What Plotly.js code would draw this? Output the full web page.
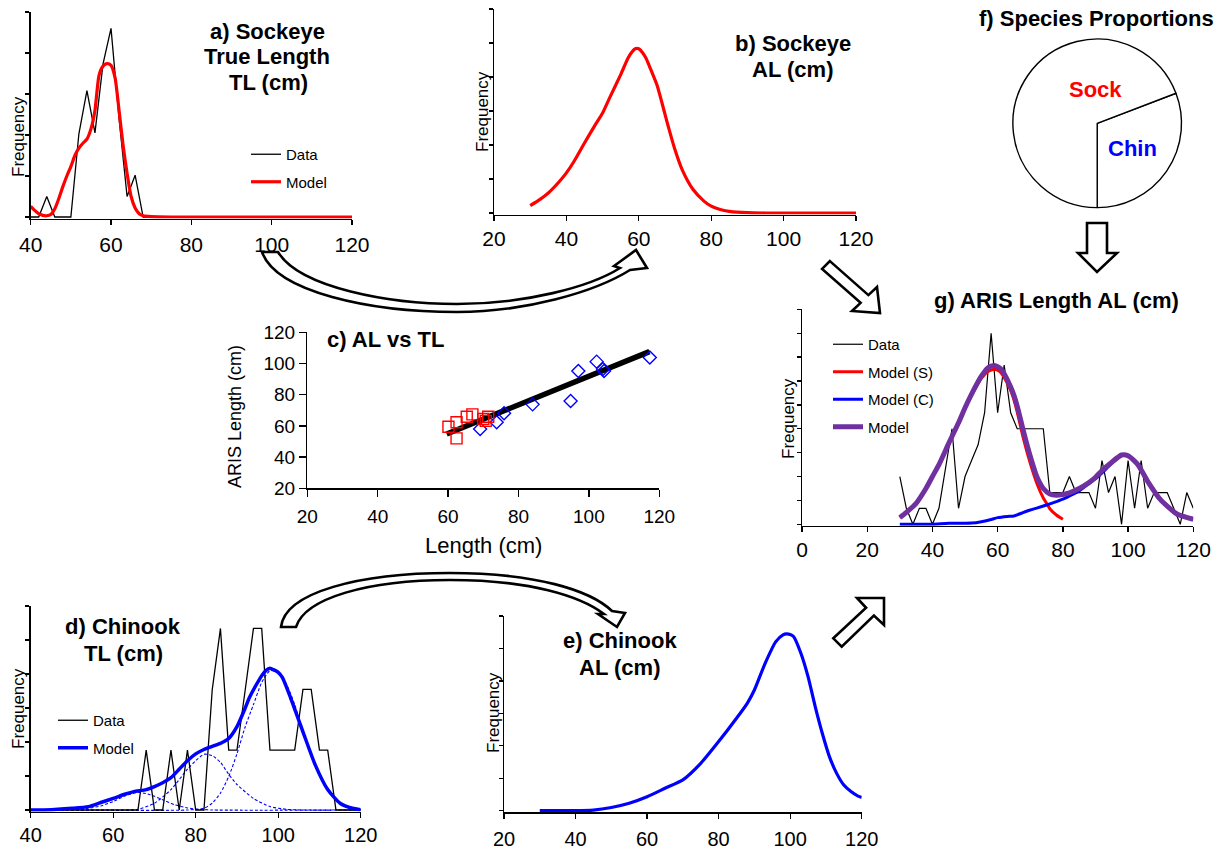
<!DOCTYPE html>
<html><head><meta charset="utf-8">
<script src="https://cdn.plot.ly/plotly-3.0.1.min.js"></script>
<style>html,body{margin:0;padding:0;background:#fff}#chart{width:1224px;height:849px}</style>
</head><body><div id="chart"></div>
<script>
// ---------- Data ----------
// a) Sockeye true length
const aDataX = [40,42,44,46,48,50,52,54,56,58,60,62,64,66,68,70];
const aDataY = [0,0,0.5,0,0,0,2.03,3.08,2.05,3.73,4.6,2.4,0.5,1.02,0,0];
const aModelX = [40,41,42,43,44,45,46,47,48,49,50,51,52,53,54,55,56,57,58,59,60,61,62,63,64,65,66,67,68,70,75,80,90,100,110,120];
const aModelY = [0.26,0.16,0.08,0.04,0.03,0.06,0.2,0.45,0.74,1.0,1.23,1.5,1.68,1.8,1.9,2.15,2.6,3.45,3.68,3.74,3.7,3.4,2.6,1.75,1.06,0.5,0.22,0.08,0.03,0.01,0,0,0,0,0,0];
// b) Sockeye ARIS length
const bModelX = [30,32,35,38,40,42,45,48,50,52,55,57,58,59,60,61,62,63,65,67,68,70,72,75,78,80,83,85,90,95,100,110,120];
const bModelY = [0.22,0.35,0.59,0.92,1.18,1.5,2.06,2.6,2.94,3.4,4.07,4.55,4.72,4.83,4.83,4.72,4.55,4.3,3.77,3.0,2.6,1.86,1.27,0.69,0.35,0.2,0.09,0.05,0.01,0,0,0,0];
// c) AL vs TL
const cSockTL = [60.1,62.4,62.4,65.3,66.9,70.0,71.4,70.7];
const cSockAL = [59.5,62.3,52.0,65.9,67.4,64.4,65.9,63.2];
const cChinTL = [69.1,73.8,75.9,84.0,94.8,97.0,102.2,104.3,104.0,117.3];
const cChinAL = [58.0,62.3,68.1,73.8,76.0,95.2,101.2,95.2,96.5,103.8];
const cFitTL = [59.6,117.2];
const cFitAL = [54.8,107.6];
// d) Chinook true length
const dDataX = [40,42,44,46,48,50,52,54,56,58,60,62,64,66,68,70,72,74,76,78,80,82,84,86,88,90,92,94,96,98,100,102,104,106,108,110,112,114,116,118,120];
const dDataY = [0,0,0,0,0,0,0,0,0,0,0,0,0,0,1.76,0,0,1.76,0,1.76,0,0,3.53,5.34,1.76,1.76,3.53,5.34,5.34,1.76,1.76,1.76,1.76,3.55,3.55,1.76,1.76,0,0,0,0];
const dModelX = [40,45,50,54,57,60,63,65,68,70,72,74,76,78,80,82,84,86,87,88,90,92,93,95,96,97,98,99,100,101,103,106,109,112,115,118,120];
const dModelY = [0,0.01,0.05,0.1,0.22,0.34,0.47,0.54,0.6,0.69,0.8,0.95,1.2,1.45,1.65,1.78,1.87,1.96,2.02,2.1,2.45,3.0,3.3,3.75,3.95,4.1,4.17,4.12,4.05,3.9,3.3,2.3,1.32,0.6,0.2,0.05,0.01];
const dComp1X = [40,50,54,57,60,63,66,69,72,75,78,81,84,120];
const dComp1Y = [0,0,0.05,0.12,0.25,0.42,0.52,0.45,0.3,0.15,0.06,0.02,0,0];
const dComp2X = [40,62,66,70,74,78,80,82,84,86,88,90,94,98,102,106,120];
const dComp2Y = [0,0,0.02,0.2,0.6,1.2,1.45,1.64,1.6,1.4,1.05,0.75,0.34,0.1,0.02,0,0];
const dComp3X = [40,78,82,84,86,88,90,92,94,96,98,100,102,104,106,109,112,115,120];
const dComp3Y = [0,0,0.05,0.2,0.5,0.98,1.65,2.45,3.1,3.75,4.1,4.05,3.7,3.1,2.3,1.32,0.6,0.2,0.01];
// e) Chinook ARIS length
const eModelX = [30,35,40,45,50,55,60,65,70,75,80,85,88,90,93,96,98,99,100,101,103,105,107,109,111,113,115,117,119,120];
const eModelY = [0,0,0,0.02,0.1,0.23,0.43,0.69,0.95,1.46,2.13,2.85,3.31,3.72,4.54,5.21,5.42,5.45,5.43,5.36,4.85,4.13,3.21,2.38,1.66,1.15,0.79,0.59,0.45,0.41];
// f) species proportions
const pieLabels = ['Chin','Sock'];
const pieValues = [30.8,69.2];
const pieRotation = 69.1;
// g) ARIS length (mixture)
const gDataX = [30,32,34,36,38,40,42,44,46,48,50,52,54,56,58,60,62,64,66,68,70,72,74,76,78,80,82,84,86,88,90,92,94,96,98,100,102,104,106,108,110,112,114,116,118,120];
const gDataY = [2.0,0.67,0,0.67,0.67,0,0.67,2.33,4.0,0.67,2.0,2.67,3.33,4.67,8.0,4.67,6.67,4.67,4.0,4.0,4.0,4.0,4.0,1.33,1.33,1.33,2.0,1.33,1.33,1.33,0.67,2.67,1.33,2.0,0,2.67,0.67,2.67,0.67,1.33,1.33,1.33,0.67,0,1.33,0.67];
const gModelSX = [30,32,35,38,40,42,45,48,50,52,55,57,58,59,60,61,62,64,65,66,68,70,72,74,75,76,78,80];
const gModelSY = [0.28,0.5,0.88,1.5,2.0,2.5,3.39,4.2,4.86,5.4,6.11,6.4,6.46,6.49,6.45,6.35,6.15,5.6,5.2,4.7,3.53,2.55,1.72,1.1,0.88,0.65,0.39,0.21];
const gModelCX = [30,35,40,45,50,52,55,58,60,63,65,68,70,72,75,78,80,83,85,88,90,92,95,98,100,103,106,110,115,120];
const gModelCY = [0,0,0,0.04,0.04,0.05,0.11,0.2,0.28,0.33,0.35,0.5,0.6,0.68,0.81,0.95,1.05,1.25,1.4,1.7,1.9,2.15,2.55,2.88,2.87,2.48,1.79,1.02,0.43,0.21];
const gModelX = [30,32,35,38,40,42,45,48,50,52,55,57,58,59,60,61,62,64,65,66,68,70,72,74,76,78,80,82,85,88,90,92,95,98,100,103,106,110,115,120];
const gModelY = [0.28,0.5,0.88,1.5,2.0,2.5,3.39,4.25,4.88,5.45,6.2,6.55,6.62,6.65,6.6,6.5,6.3,5.75,5.4,4.95,3.85,2.85,2.0,1.5,1.27,1.22,1.25,1.32,1.5,1.75,1.97,2.25,2.6,2.9,2.87,2.5,1.8,1.02,0.43,0.21];
// tick values
const ticksA = [40,60,80,100,120];
const ticks20 = [20,40,60,80,100,120];
const ticksG = [0,20,40,60,80,100,120];
const ticksCY = [20,40,60,80,100,120];
const freq5 = [0,1,2,3,4,5];
const freq6 = [0,1,2,3,4,5,6];
const freq9 = [0,1,2,3,4,5,6,7,8,9];

// ---------- Helpers ----------
const W = 1224, H = 849;
const FONT = 'Liberation Sans, Arial, sans-serif';
const RED = '#FF0000', BLUE = '#0000FF', PURPLE = '#7030A0';
const common = {showgrid:false, zeroline:false, showline:true, linecolor:'black', linewidth:1.3,
  ticks:'outside', tickcolor:'black', tickwidth:1.3, fixedrange:true};
function xAx(l, r, range, tickvals, size, anchor, extra){
  return Object.assign({}, common, {domain:[l/W, r/W], range, tickvals, ticklen:5,
    tickfont:{size, color:'black', family:FONT}, anchor}, extra||{});
}
function yAx(top, bot, vmax, tickvals, anchor, pad){
  const per = vmax/(bot-top);
  return Object.assign({}, common, {domain:[1-(bot+pad)/H, 1-top/H], range:[-pad*per, vmax],
    tickvals, showticklabels:false, ticklen:4, anchor});
}
function ann(text, x, y, size, opts){
  return Object.assign({text, x:x/W, y:1-y/H, xref:'paper', yref:'paper', showarrow:false,
    xanchor:'center', yanchor:'middle', font:{size, color:'black', family:FONT}}, opts||{});
}
function freq(x, y){ return ann('Frequency', x, y, 17, {textangle:-90}); }
function bold(t, x, y){ return ann('<b>'+t+'</b>', x, y, 22); }
function pxPath(p){
  return p.replace(/(-?\d+\.?\d*),(-?\d+\.?\d*)/g, (m,a,b)=> (a/W).toFixed(5)+','+(1-b/H).toFixed(5));
}
function arrow(p){
  return {type:'path', xref:'paper', yref:'paper', path:pxPath(p), fillcolor:'white',
    line:{color:'black', width:2.6}, layer:'above'};
}

// ---------- Traces ----------
const traces = [
  // a
  {x:aDataX, y:aDataY, xaxis:'x', yaxis:'y', mode:'lines', name:'Data', line:{color:'black', width:1.3},
    legend:'legend', legendgroup:'a1'},
  {x:aModelX, y:aModelY, xaxis:'x', yaxis:'y', mode:'lines', name:'Model', line:{color:RED, width:3.2, shape:'spline', smoothing:0.6},
    legend:'legend', legendgroup:'a2'},
  // b
  {x:bModelX, y:bModelY, xaxis:'x2', yaxis:'y2', mode:'lines', line:{color:RED, width:3.2, shape:'spline', smoothing:0.6}, showlegend:false},
  // c
  {x:cFitTL, y:cFitAL, xaxis:'x3', yaxis:'y3', mode:'lines', line:{color:'black', width:5.5}, showlegend:false},
  {x:cChinTL, y:cChinAL, xaxis:'x3', yaxis:'y3', mode:'markers', marker:{symbol:'diamond-open', size:10, color:BLUE, line:{width:1.4, color:BLUE}}, showlegend:false},
  {x:cSockTL, y:cSockAL, xaxis:'x3', yaxis:'y3', mode:'markers', marker:{symbol:'square-open', size:11, color:RED, line:{width:1.4, color:RED}}, showlegend:false},
  // d
  {x:dComp1X, y:dComp1Y, xaxis:'x4', yaxis:'y4', mode:'lines', line:{color:BLUE, width:1.1, dash:'3px,2px', shape:'spline', smoothing:0.6}, showlegend:false},
  {x:dComp2X, y:dComp2Y, xaxis:'x4', yaxis:'y4', mode:'lines', line:{color:BLUE, width:1.1, dash:'3px,2px', shape:'spline', smoothing:0.6}, showlegend:false},
  {x:dComp3X, y:dComp3Y, xaxis:'x4', yaxis:'y4', mode:'lines', line:{color:BLUE, width:1.1, dash:'3px,2px', shape:'spline', smoothing:0.6}, showlegend:false},
  {x:dDataX, y:dDataY, xaxis:'x4', yaxis:'y4', mode:'lines', name:'Data', line:{color:'black', width:1.3},
    legend:'legend2', legendgroup:'d1'},
  {x:dModelX, y:dModelY, xaxis:'x4', yaxis:'y4', mode:'lines', name:'Model', line:{color:BLUE, width:3.5, shape:'spline', smoothing:0.6},
    legend:'legend2', legendgroup:'d2'},
  // e
  {x:eModelX, y:eModelY, xaxis:'x5', yaxis:'y5', mode:'lines', line:{color:BLUE, width:3.2, shape:'spline', smoothing:0.6}, showlegend:false},
  // g
  {x:gDataX, y:gDataY, xaxis:'x6', yaxis:'y6', mode:'lines', name:'Data', line:{color:'black', width:1.2},
    legend:'legend3', legendgroup:'g1'},
  {x:gModelSX, y:gModelSY, xaxis:'x6', yaxis:'y6', mode:'lines', name:'Model (S)', line:{color:RED, width:3, shape:'spline', smoothing:0.6},
    legend:'legend3', legendgroup:'g2'},
  {x:gModelCX, y:gModelCY, xaxis:'x6', yaxis:'y6', mode:'lines', name:'Model (C)', line:{color:BLUE, width:3, shape:'spline', smoothing:0.6},
    legend:'legend3', legendgroup:'g3'},
  {x:gModelX, y:gModelY, xaxis:'x6', yaxis:'y6', mode:'lines', name:'Model', line:{color:PURPLE, width:5, shape:'spline', smoothing:0.6},
    legend:'legend3', legendgroup:'g4'},
  // f pie
  {type:'pie', labels:pieLabels, values:pieValues, sort:false, direction:'clockwise', rotation:pieRotation,
    textinfo:'none', hoverinfo:'none', showlegend:false,
    marker:{colors:['white','white'], line:{color:'black', width:1.4}},
    domain:{x:[(1097.2-84.3)/W, (1097.2+84.3)/W], y:[1-(123.3+84.3)/H, 1-(123.3-84.3)/H]}}
];

const legendBase = {bgcolor:'rgba(0,0,0,0)', borderwidth:0, font:{size:15, color:'black', family:FONT},
  traceorder:'grouped', tracegroupgap:5, xanchor:'left', yanchor:'top', itemwidth:30};

const layout = {
  width:W, height:H, autosize:false,
  margin:{l:0, r:0, t:0, b:0, pad:0},
  paper_bgcolor:'white', plot_bgcolor:'rgba(0,0,0,0)',
  font:{family:FONT, color:'black'},
  hovermode:false,
  xaxis: xAx(30.7, 352, [40,120], ticksA, 21, 'y', {ticklabelstandoff:2}),
  yaxis: yAx(12, 217, 5, freq5, 'x', 1.5),
  xaxis2: xAx(494, 856, [20,120], ticks20, 21, 'y2'),
  yaxis2: yAx(9, 213, 6, freq6, 'x2', 1.5),
  xaxis3: xAx(307.3, 659.3, [20,120], ticks20, 19, 'y3', {ticklen:7, ticklabelstandoff:4}),
  yaxis3: Object.assign({}, common, {domain:[1-488.3/H, 1-332.3/H], range:[20,120], tickvals:ticksCY, ticklen:7,
    tickfont:{size:19, color:'black', family:FONT}, anchor:'x3'}),
  xaxis4: xAx(30.7, 360.7, [40,120], ticksA, 20, 'y4'),
  yaxis4: yAx(606, 810, 6, freq6, 'x4', 1.5),
  xaxis5: xAx(504, 861.7, [20,120], ticks20, 20, 'y5', {ticklabelstandoff:3}),
  yaxis5: yAx(616, 810.7, 6, freq6, 'x5', 1.5),
  xaxis6: xAx(802, 1193.3, [0,120], ticksG, 21, 'y6'),
  yaxis6: yAx(309.3, 524.3, 9, freq9, 'x6', 1.5),
  legend: Object.assign({}, legendBase, {x:246/W, y:1-138/H}),
  legend2: Object.assign({}, legendBase, {x:53/W, y:1-704/H}),
  legend3: Object.assign({}, legendBase, {x:828/W, y:1-328/H}),
  annotations: [
    bold('a) Sockeye', 267, 31), bold('True Length', 267, 56), bold('TL (cm)', 268, 82),
    bold('b) Sockeye', 793, 43), bold('AL (cm)', 793, 69),
    ann('<b>c) AL vs TL</b>', 325, 340, 22, {xanchor:'left'}),
    bold('d) Chinook', 123, 626), bold('TL (cm)', 123, 653),
    bold('e) Chinook', 620, 640), bold('AL (cm)', 620, 667),
    bold('f) Species Proportions', 1096, 18),
    bold('g) ARIS Length AL (cm)', 1056, 300),
    freq(18, 137), freq(482, 112), freq(18, 709), freq(493, 713), freq(789, 419),
    ann('ARIS Length (cm)', 235, 417, 18, {textangle:-90}),
    ann('Length (cm)', 483, 545, 22),
    ann('<b>Sock</b>', 1095, 90, 22, {font:{size:22, color:RED, family:FONT}}),
    ann('<b>Chin</b>', 1132, 148, 22, {font:{size:22, color:BLUE, family:FONT}})
  ],
  shapes: [
    arrow('M262,252 L278,252 C300,288 390,304 457,304 C525,304 590,287 620,268 L614,266 L636,250 L647,268 L630,270 C595,292 525,312 457,312 C370,312 276,292 262,252 Z'),
    arrow('M281,627 C285,592 360,573 450,573 C535,573 590,590 612,611 L625,613 L617,627 L598,614 L604,614 C580,596 530,580 450,580 C368,580 305,598 296,627 Z'),
    arrow('M829.9,261.1 L868.4,295.1 L877,287 L880,313 L852,311 L860.6,302.9 L822.1,268.9 Z'),
    arrow('M833.3,638.3 L866.1,607.8 L857,598 L884,598 L884,625 L873.9,615.6 L841.7,646.7 Z'),
    arrow('M1087,223 L1107,223 L1107,253 L1117,253 L1097,272 L1078,253 L1087,253 Z')
  ]
};

Plotly.newPlot('chart', traces, layout, {staticPlot:true, displayModeBar:false});
</script></body></html>
